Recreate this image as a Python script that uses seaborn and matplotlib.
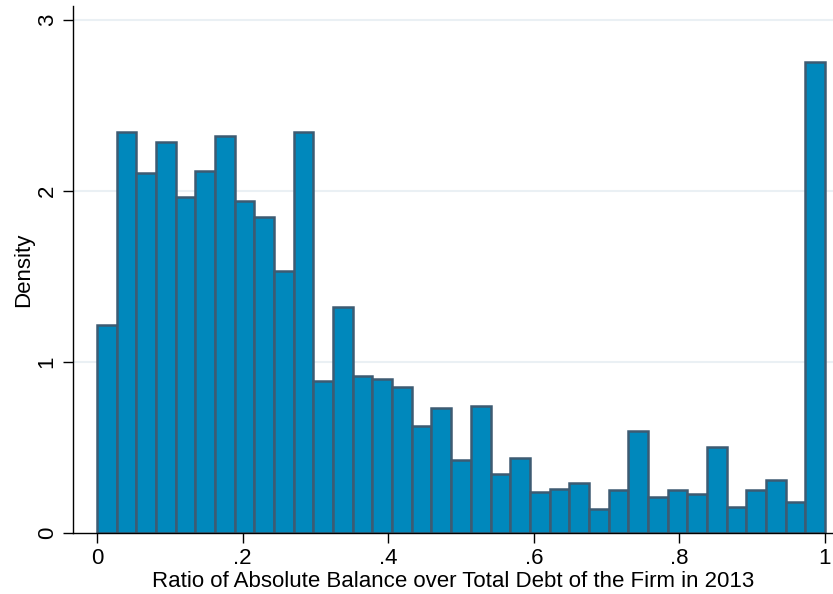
import numpy as np
import pandas as pd
import matplotlib
matplotlib.use("Agg")
import matplotlib.pyplot as plt
import seaborn as sns

# Histogram densities, 37 equal-width bins over [0, 1]
density = [1.216, 2.345, 2.105, 2.287, 1.965, 2.117, 2.320, 1.940, 1.848, 1.533,
           2.345, 0.889, 1.320, 0.918, 0.900, 0.854, 0.628, 0.731, 0.427, 0.740,
           0.347, 0.441, 0.240, 0.260, 0.292, 0.140, 0.251, 0.596, 0.210, 0.251,
           0.227, 0.503, 0.152, 0.251, 0.312, 0.180, 2.754]
n_bins = len(density)
bin_edges = np.linspace(0, 1, n_bins + 1)
bin_mids = (bin_edges[:-1] + bin_edges[1:]) / 2

x_ticks = [0, 0.2, 0.4, 0.6, 0.8, 1.0]
x_tick_labels = ["0", ".2", ".4", ".6", ".8", "1"]
y_ticks = [0, 1, 2, 3]
y_tick_labels = ["0", "1", "2", "3"]

df = pd.DataFrame({"ratio": bin_mids, "density": density})

sns.set_style("white")
plt.rcParams["font.family"] = ["Liberation Sans", "DejaVu Sans"]
plt.rcParams["text.color"] = "black"
plt.rcParams["axes.labelcolor"] = "black"

fig = plt.figure(figsize=(8.33, 5.94), dpi=100)
ax = fig.add_axes([0.0876, 0.1027, 0.9124, 0.887])

# light horizontal grid
for yv in y_ticks[1:]:
    ax.axhline(yv, color="#eaf0f4", lw=1.5, zorder=0)

sns.histplot(data=df, x="ratio", weights="density", bins=n_bins, binrange=(0, 1),
             stat="count", color="#0088bc", edgecolor="#3d5b72", linewidth=1.8,
             alpha=1.0, ax=ax, zorder=2)

ax.set_xlim(-0.033, 1.011)
ax.set_ylim(0, 3.082)
ax.set_xticks(x_ticks)
ax.set_xticklabels(x_tick_labels)
ax.set_yticks(y_ticks)
ax.set_yticklabels(y_tick_labels, rotation=90, va="center")

for side in ["top", "right"]:
    ax.spines[side].set_visible(False)
for side in ["left", "bottom"]:
    ax.spines[side].set_color("black")
    ax.spines[side].set_linewidth(1.0)

ax.tick_params(axis="both", which="major", direction="out", length=7, width=1,
               color="black", labelsize=16, labelcolor="black", pad=4,
               left=True, bottom=True)
ax.set_xlabel("Ratio of Absolute Balance over Total Debt of the Firm in 2013",
              fontsize=16, labelpad=1, color="black")
ax.set_ylabel("Density", fontsize=16, labelpad=2, color="black")

fig.savefig("out.png", dpi=100, facecolor="white")
